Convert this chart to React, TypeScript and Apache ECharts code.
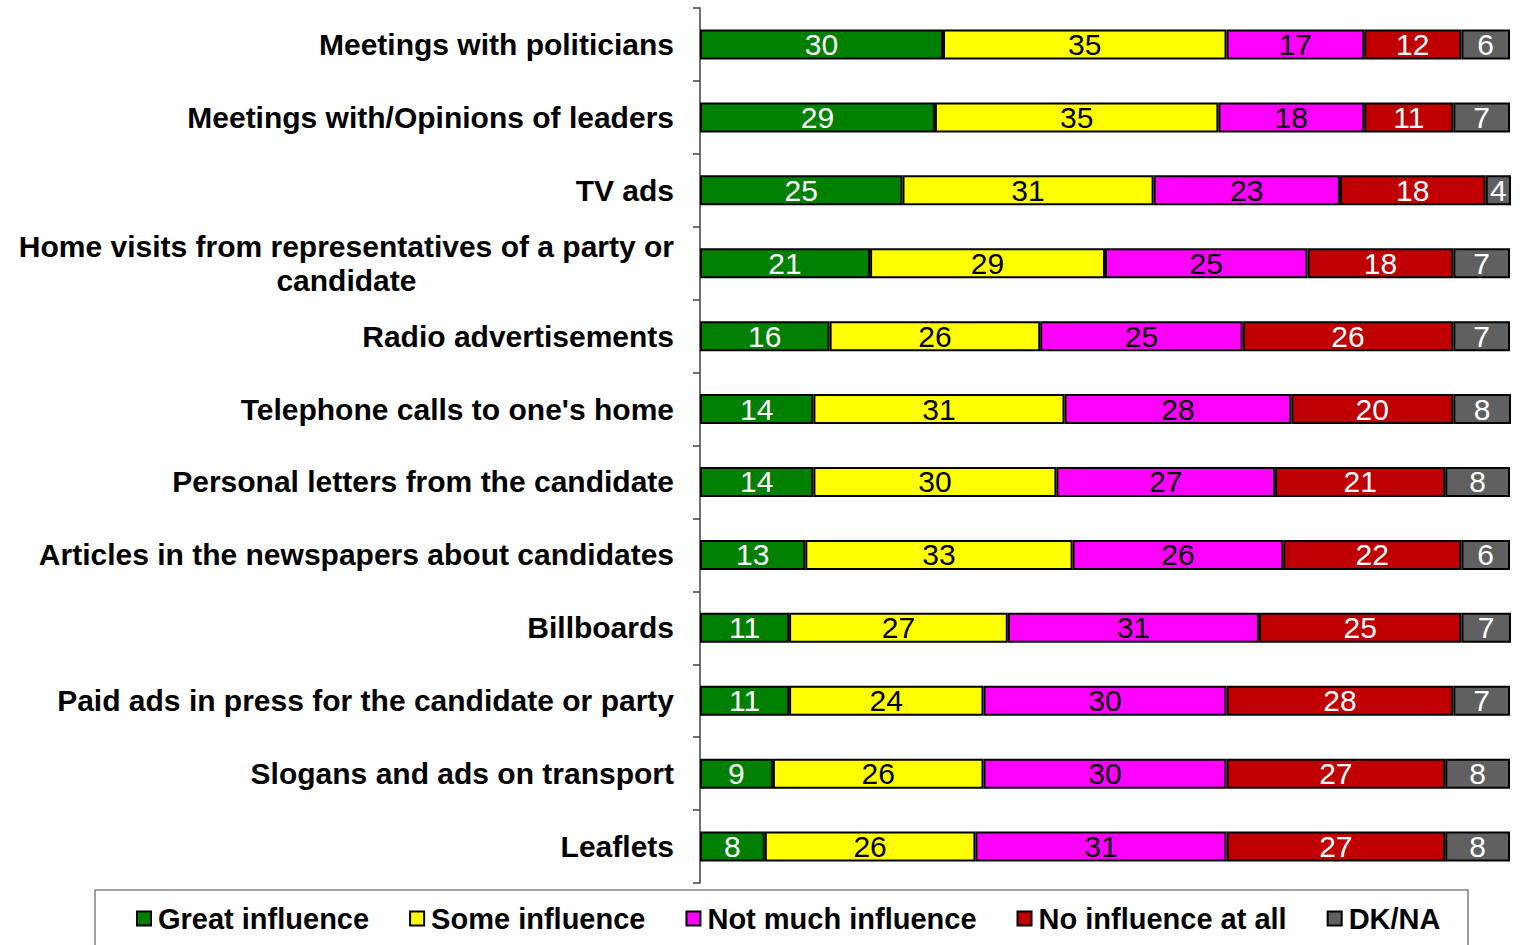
import React, { useEffect, useRef } from "react";
import * as echarts from "echarts";

const categories = [
  "Meetings with politicians",
  "Meetings with/Opinions of leaders",
  "TV ads",
  "Home visits from representatives of a party or\ncandidate",
  "Radio advertisements",
  "Telephone calls to one's home",
  "Personal letters from the candidate",
  "Articles in the newspapers about candidates",
  "Billboards",
  "Paid ads in press for the candidate or party",
  "Slogans and ads on transport",
  "Leaflets",
];

const greatInfluence = [30, 29, 25, 21, 16, 14, 14, 13, 11, 11, 9, 8];
const someInfluence = [35, 35, 31, 29, 26, 31, 30, 33, 27, 24, 26, 26];
const notMuchInfluence = [17, 18, 23, 25, 25, 28, 27, 26, 31, 30, 30, 31];
const noInfluence = [12, 11, 18, 18, 26, 20, 21, 22, 25, 28, 27, 27];
const dkna = [6, 7, 4, 7, 7, 8, 8, 6, 7, 7, 8, 8];

const seriesNames = ["Great influence", "Some influence", "Not much influence", "No influence at all", "DK/NA"];
const seriesColors = ["#008000", "#FFFF00", "#FF00FF", "#C00000", "#606060"];
const labelColors = ["#FFFFFF", "#000000", "#000000", "#FFFFFF", "#FFFFFF"];
const seriesData = [greatInfluence, someInfluence, notMuchInfluence, noInfluence, dkna];

const FONT = "'Liberation Sans', Arial, sans-serif";

export default function App() {
  const ref = useRef<HTMLDivElement>(null);
  useEffect(() => {
    if (!ref.current) return;
    const chart = echarts.init(ref.current, null, { renderer: "svg" });
    const baseText = { fontSize: 30, fontWeight: "bold" as const, fontFamily: FONT, color: "#000" };
    chart.setOption({
      animation: false,
      backgroundColor: "#ffffff",
      grid: { left: 700, top: 8, width: 810, height: 875, containLabel: false },
      xAxis: { type: "value", min: 0, max: 100, show: false },
      yAxis: {
        type: "category",
        inverse: true,
        data: categories,
        axisLine: { show: true, lineStyle: { color: "#404040", width: 1.5 } },
        axisTick: { show: true, length: 7, lineStyle: { color: "#404040", width: 1.5 } },
        axisLabel: {
          margin: 26,
          ...baseText,
          formatter: (v: string) =>
            v.includes("\n")
              ? v.split("\n").map((l) => `{c|${l}}`).join("\n")
              : `{r|${v}}`,
          rich: {
            c: { ...baseText, align: "center", lineHeight: 34 },
            r: { ...baseText },
          },
        },
        splitLine: { show: false },
      },
      legend: {
        left: 131,
        top: 899,
        itemWidth: 14,
        itemHeight: 14,
        itemGap: 40,
        icon: "rect",
        textStyle: { fontSize: 29, fontWeight: "bold", fontFamily: FONT, color: "#000", padding: [0, 0, 0, 2] },
        data: seriesNames,
      },
      graphic: [
        {
          type: "rect",
          shape: { x: 95, y: 890, width: 1373, height: 70 },
          style: { fill: "none", stroke: "#808080", lineWidth: 1.5 },
          silent: true,
        },
      ],
      series: seriesNames.map((name, i) => ({
        name,
        type: "bar",
        stack: "total",
        barWidth: 30,
        data: seriesData[i],
        itemStyle: { color: seriesColors[i], borderColor: "#000", borderWidth: 2 },
        label: {
          show: true,
          position: "inside",
          color: labelColors[i],
          fontSize: 30,
          fontWeight: "normal",
          fontFamily: FONT,
        },
      })),
    });
    return () => chart.dispose();
  }, []);
  return (
    <div
      ref={ref}
      style={{ position: "fixed", left: 0, top: 0, width: 1520, height: 945 }}
    />
  );
}
